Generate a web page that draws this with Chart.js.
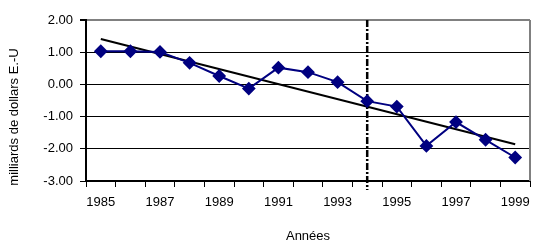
<!DOCTYPE html>
<html>
<head>
<meta charset="utf-8">
<script src="https://cdn.jsdelivr.net/npm/chart.js@4/dist/chart.umd.min.js"></script>
<style>
  html, body { margin: 0; padding: 0; background: #ffffff; }
  #wrap { width: 538px; height: 251px; }
</style>
</head>
<body>
<div id="wrap"><canvas id="c" width="538" height="251"></canvas></div>
<script>
const years = ['1985','1986','1987','1988','1989','1990','1991','1992','1993','1994','1995','1996','1997','1998','1999'];
const values = [1.03, 1.03, 1.01, 0.67, 0.26, -0.13, 0.52, 0.38, 0.07, -0.52, -0.69, -1.91, -1.17, -1.72, -2.27];
const trend = [1.41, null, null, null, null, null, null, null, null, null, null, null, null, null, -1.86];
const yTicks = [2, 1, 0, -1, -2, -3];
const markerYear = '1994';
const yTitle = 'milliards de dollars E.-U';
const xTitle = 'Années';

const FONT = "'Liberation Sans', Arial, sans-serif";

const extras = {
  id: 'extras',
  beforeDatasetsDraw(chart) {
    const ctx = chart.ctx;
    const x = chart.scales.x.getPixelForValue(years.indexOf(markerYear));
    const a = chart.chartArea;
    ctx.save();
    ctx.strokeStyle = '#000000';
    ctx.lineWidth = 2.5;
    ctx.setLineDash([7, 2, 2, 2]);
    ctx.beginPath();
    ctx.moveTo(x, a.top);
    ctx.lineTo(x, a.bottom + 9);
    ctx.stroke();
    ctx.restore();
  },
  afterDraw(chart) {
    const ctx = chart.ctx;
    const a = chart.chartArea;
    ctx.save();
    ctx.strokeStyle = '#808080';
    ctx.lineWidth = 2;
    ctx.beginPath();
    ctx.moveTo(a.right, a.top);
    ctx.lineTo(a.right, a.bottom);
    ctx.stroke();
    ctx.fillStyle = '#000000';
    ctx.font = '13px ' + FONT;
    ctx.textAlign = 'center';
    ctx.textBaseline = 'middle';
    ctx.translate(14, 117);
    ctx.rotate(-Math.PI / 2);
    ctx.fillText(yTitle, 0, 0);
    ctx.restore();
  }
};

new Chart(document.getElementById('c'), {
  type: 'line',
  data: {
    labels: years,
    datasets: [
      {
        data: values,
        borderColor: '#000080',
        backgroundColor: '#000080',
        borderWidth: 2,
        pointStyle: 'rectRot',
        pointRadius: 5.5,
        pointHoverRadius: 5.5,
        pointBackgroundColor: '#000080',
        pointBorderColor: '#000080',
        tension: 0,
        order: 1
      },
      {
        data: trend,
        borderColor: '#000000',
        borderWidth: 2,
        pointRadius: 0,
        spanGaps: true,
        tension: 0,
        order: 2
      }
    ]
  },
  options: {
    responsive: false,
    animation: false,
    events: [],
    layout: { padding: { left: 0, right: 8, top: 20, bottom: 7 } },
    plugins: { legend: { display: false }, tooltip: { enabled: false } },
    scales: {
      x: {
        type: 'category',
        offset: true,
        afterFit(s) { s.height = 63; },
        border: { display: true, color: '#000000', width: 2 },
        grid: {
          offset: true,
          drawOnChartArea: false,
          drawTicks: true,
          tickLength: 6,
          color: '#000000',
          lineWidth: 1
        },
        ticks: {
          autoSkip: false,
          maxRotation: 0,
          color: '#000000',
          font: { family: FONT, size: 13 },
          padding: 8,
          callback(v, i) { return i % 2 === 0 ? years[i] : ''; }
        },
        title: {
          display: true,
          text: xTitle,
          color: '#000000',
          font: { family: FONT, size: 13 },
          padding: 0
        }
      },
      y: {
        min: -3,
        max: 2,
        afterFit(s) { s.width = 86; },
        afterBuildTicks(s) { s.ticks = yTicks.map(v => ({ value: v })); },
        border: { display: true, color: '#000000', width: 2 },
        grid: {
          drawTicks: true,
          tickLength: 6,
          color(c) { return c.tick && c.tick.value === 2 ? '#808080' : '#000000'; },
          tickColor: '#000000',
          lineWidth(c) { return c.tick && c.tick.value === 2 ? 2 : 1; }
        },
        ticks: {
          color: '#000000',
          font: { family: FONT, size: 13 },
          padding: 7,
          callback(v) { return Number(v).toFixed(2); }
        }
      }
    }
  },
  plugins: [extras]
});
</script>
</body>
</html>
